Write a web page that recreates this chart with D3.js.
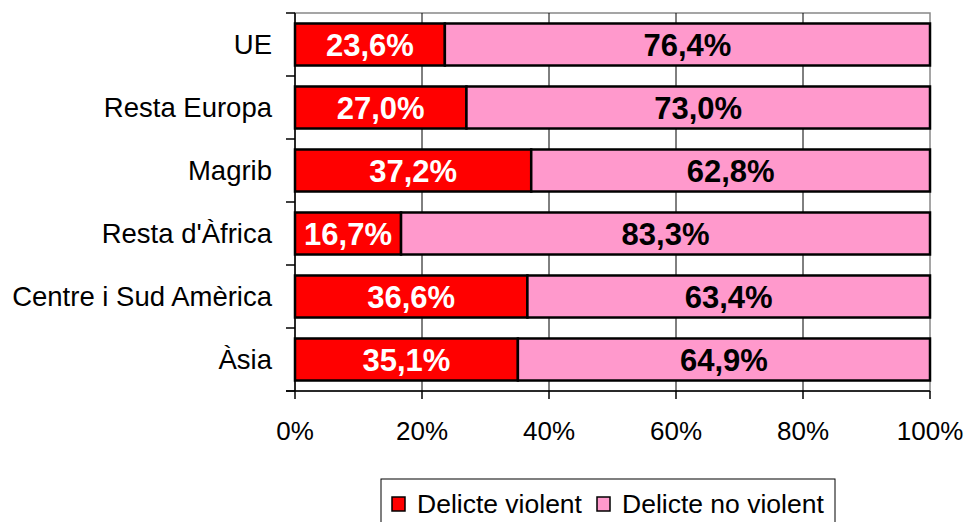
<!DOCTYPE html>
<html>
<head>
<meta charset="utf-8">
<script src="https://cdn.jsdelivr.net/npm/d3@7"></script>
<style>
  body { margin: 0; background: #fff; }
  svg { display: block; font-family: "Liberation Sans", Arial, sans-serif; }
</style>
</head>
<body>
<div id="chart"></div>
<script>
const categories = ['UE', 'Resta Europa', 'Magrib', "Resta d'Àfrica", 'Centre i Sud Amèrica', 'Àsia'];
const violent = [23.6, 27.0, 37.2, 16.7, 36.6, 35.1];
const nonViolent = [76.4, 73.0, 62.8, 83.3, 63.4, 64.9];
const seriesNames = ['Delicte violent', 'Delicte no violent'];
const tickValues = [0, 20, 40, 60, 80, 100];

const width = 966;
const height = 522;
const margin = { top: 13, right: 36, bottom: 131, left: 295 };
const colors = ['#ff0000', '#ff99cc'];

const svg = d3.select('#chart')
    .append('svg')
    .attr('width', width)
    .attr('height', height);

const x = d3.scaleLinear()
    .domain([0, 100])
    .range([margin.left, width - margin.right]);

const y = d3.scaleBand()
    .domain(categories)
    .range([margin.top, height - margin.bottom])
    .paddingInner(0.333)
    .paddingOuter(0.1665);

const fmt = v => d3.format('.1f')(v).replace('.', ',') + '%';

// plot frame + gridlines
svg.append('rect')
    .attr('x', x(0))
    .attr('y', margin.top)
    .attr('width', x(100) - x(0))
    .attr('height', height - margin.bottom - margin.top)
    .attr('fill', 'none')
    .attr('stroke', '#888')
    .attr('stroke-width', 1.5);

svg.append('g')
    .selectAll('line')
    .data(tickValues.slice(1, -1))
    .enter()
    .append('line')
    .attr('x1', d => x(d))
    .attr('x2', d => x(d))
    .attr('y1', margin.top)
    .attr('y2', height - margin.bottom)
    .attr('stroke', '#000')
    .attr('stroke-width', 1);

const data = categories.map((c, i) => ({ cat: c, values: [violent[i], nonViolent[i]] }));

const rows = svg.append('g')
    .selectAll('g')
    .data(data)
    .enter()
    .append('g');

rows.each(function (d) {
    const g = d3.select(this);
    let start = 0;
    d.values.forEach((v, j) => {
        g.append('rect')
            .attr('x', x(start))
            .attr('y', y(d.cat))
            .attr('width', x(start + v) - x(start))
            .attr('height', y.bandwidth())
            .attr('fill', colors[j])
            .attr('stroke', '#000')
            .attr('stroke-width', 2.5);
        g.append('text')
            .attr('x', x(start + v / 2))
            .attr('y', y(d.cat) + y.bandwidth() / 2)
            .attr('dy', '0.36em')
            .attr('text-anchor', 'middle')
            .attr('font-size', 31)
            .attr('font-weight', 'bold')
            .attr('fill', j === 0 ? '#fff' : '#000')
            .text(fmt(v));
        start += v;
    });
});

// left axis
const yTicks = d3.range(categories.length + 1).map(i => margin.top + i * y.step());
svg.append('line')
    .attr('x1', x(0)).attr('x2', x(0))
    .attr('y1', margin.top).attr('y2', height - margin.bottom)
    .attr('stroke', '#000').attr('stroke-width', 1.5);
svg.append('g')
    .selectAll('line')
    .data(yTicks)
    .enter()
    .append('line')
    .attr('x1', x(0) - 9).attr('x2', x(0))
    .attr('y1', d => d).attr('y2', d => d)
    .attr('stroke', '#000').attr('stroke-width', 1.5);

svg.append('g')
    .selectAll('text')
    .data(categories)
    .enter()
    .append('text')
    .attr('x', 272)
    .attr('y', d => y(d) + y.bandwidth() / 2)
    .attr('dy', '0.36em')
    .attr('text-anchor', 'end')
    .attr('font-size', 27.5)
    .attr('fill', '#000')
    .text(d => d);

// bottom axis
const axisY = height - margin.bottom;
svg.append('line')
    .attr('x1', x(0) - 9).attr('x2', x(100))
    .attr('y1', axisY).attr('y2', axisY)
    .attr('stroke', '#000').attr('stroke-width', 1.5);
svg.append('g')
    .selectAll('line')
    .data(tickValues)
    .enter()
    .append('line')
    .attr('x1', d => x(d)).attr('x2', d => x(d))
    .attr('y1', axisY).attr('y2', axisY + 8)
    .attr('stroke', '#000').attr('stroke-width', 1.5);
svg.append('g')
    .selectAll('text')
    .data(tickValues)
    .enter()
    .append('text')
    .attr('x', d => x(d))
    .attr('y', 440)
    .attr('text-anchor', 'middle')
    .attr('font-size', 26)
    .attr('fill', '#000')
    .text(d => d + '%');

// legend
const legend = svg.append('g');
legend.append('rect')
    .attr('x', 381).attr('y', 479)
    .attr('width', 454).attr('height', 60)
    .attr('fill', '#fff')
    .attr('stroke', '#000').attr('stroke-width', 1);
const legendX = [392, 597];
seriesNames.forEach((name, i) => {
    legend.append('rect')
        .attr('x', legendX[i]).attr('y', 497)
        .attr('width', 13).attr('height', 14)
        .attr('fill', colors[i])
        .attr('stroke', '#000').attr('stroke-width', 1.5);
    legend.append('text')
        .attr('x', legendX[i] + 25).attr('y', 513)
        .attr('font-size', 26.5)
        .attr('fill', '#000')
        .text(name);
});
</script>
</body>
</html>
